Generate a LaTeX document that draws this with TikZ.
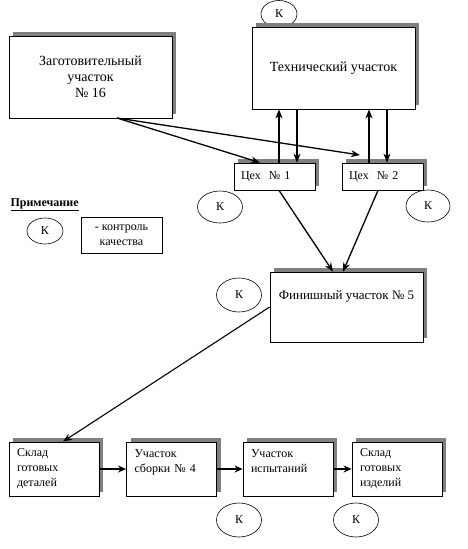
\documentclass[tikz,border=0pt]{standalone}
\usepackage{fontspec}
\setmainfont{Liberation Serif}
\usetikzlibrary{shadows,arrows.meta,shapes.geometric,calc}
\begin{document}
\begin{tikzpicture}[x=1pt,y=-1pt,
  box/.style={draw,line width=0.8pt,fill=white,inner sep=0pt,
    drop shadow={shadow xshift=4pt,shadow yshift=4pt,opacity=1,fill=gray}},
  big/.style={font=\fontsize{14}{16}\selectfont,align=center},
  small/.style={font=\fontsize{12}{15}\selectfont},
  cex/.style={box,small,minimum width=81pt,minimum height=27pt,inner xsep=7pt,text width=67pt,align=left},
  bot/.style={box,small,minimum width=90pt,minimum height=54pt,inner xsep=8pt,text width=74pt,align=left},
  kk/.style={draw,ellipse,line width=0.6pt,inner sep=0pt,font=\fontsize{12}{14}\selectfont},
  arr/.style={line width=1.3pt,-{Stealth[length=9pt,width=7pt]}},
  barr/.style={line width=2pt,-{Stealth[length=8pt,width=7pt]}}]
\useasboundingbox (0,0) rectangle (467,549);
% quality-control ellipses
\node[kk,minimum width=36pt,minimum height=27pt] (ktop) at (279,14) {К};
\node[kk,minimum width=45pt,minimum height=32pt] (k1) at (220,207) {К};
\node[kk,minimum width=44pt,minimum height=32pt] (k2) at (428,206) {К};
\node[kk,minimum width=36pt,minimum height=26pt] (kleg) at (45,231) {К};
\node[kk,minimum width=45pt,minimum height=34pt] (kfin) at (239,295) {К};
\node[kk,minimum width=45pt,minimum height=34pt] (k3) at (239,520) {К};
\node[kk,minimum width=45pt,minimum height=34pt] (k4) at (356,520) {К};
% boxes
\node[box,big,minimum width=163pt,minimum height=82pt] (zag) at (90.5,77) {Заготовительный\\участок\\№ 16};
\node[box,big,minimum width=163pt,minimum height=82pt] (tech) at (333.5,68) {Технический участок};
\node[cex] (c1) at (274.5,176.5) {Цех\ \ № 1};
\node[cex] (c2) at (382.5,176.5) {Цех\ \ № 2};
\node[box,small,font=\fontsize{13}{15}\selectfont,minimum width=153pt,minimum height=70pt,text height=10pt,text depth=26pt] (fin) at (346.5,307) {Финишный участок № 5};
\node[bot] (s1) at (54,469) {Склад\\готовых\\деталей};
\node[bot] (s2) at (171.5,469) {Участок\\сборки № 4\\\mbox{}};
\node[bot] (s3) at (288,469) {Участок\\испытаний\\\mbox{}};
\node[bot] (s4) at (397,469) {Склад\\готовых\\изделий};
% legend
\node[anchor=base west,font=\fontsize{12}{14}\selectfont\bfseries] (note) at (7,206) {\underline{Примечание}};
\node[draw,line width=0.8pt,small,align=center,minimum width=81pt,minimum height=36pt,inner sep=0pt] (leg) at (121.5,235) {- контроль\\качества};
% connectors
\coordinate (zo) at (117,118);
\coordinate (c2in) at (360,155);
\draw[arr] (zo) -- ($(c1.north)+(-14.5,0)$);
\draw[arr] (zo) -- (c2in);
\draw[arr] ($(c1.north)+(4.5,0)$) -- ($(c1.north |- tech.south)+(4.5,0)$);
\draw[arr] ($(c1.north |- tech.south)+(22.5,0)$) -- ($(c1.north)+(22.5,0)$);
\draw[arr] ($(c2.north)+(-13.5,0)$) -- ($(c2.north |- tech.south)+(-13.5,0)$);
\draw[arr] ($(c2.north |- tech.south)+(4.5,0)$) -- ($(c2.north)+(4.5,0)$);
\draw[arr] ($(c1.south)+(4.5,0)$) -- ($(fin.north)+(-13.5,0)$);
\draw[arr] ($(c2.south)+(-4.5,0)$) -- ($(fin.north)+(-3.5,0)$);
\draw[arr,line width=1.1pt] (fin.west) -- ($(s1.north)+(9,0)$);
\draw[barr] (s1.east) -- (s2.west);
\draw[barr] (s2.east) -- (s3.west);
\draw[barr] (s3.east) -- (s4.west);
\end{tikzpicture}
\end{document}
